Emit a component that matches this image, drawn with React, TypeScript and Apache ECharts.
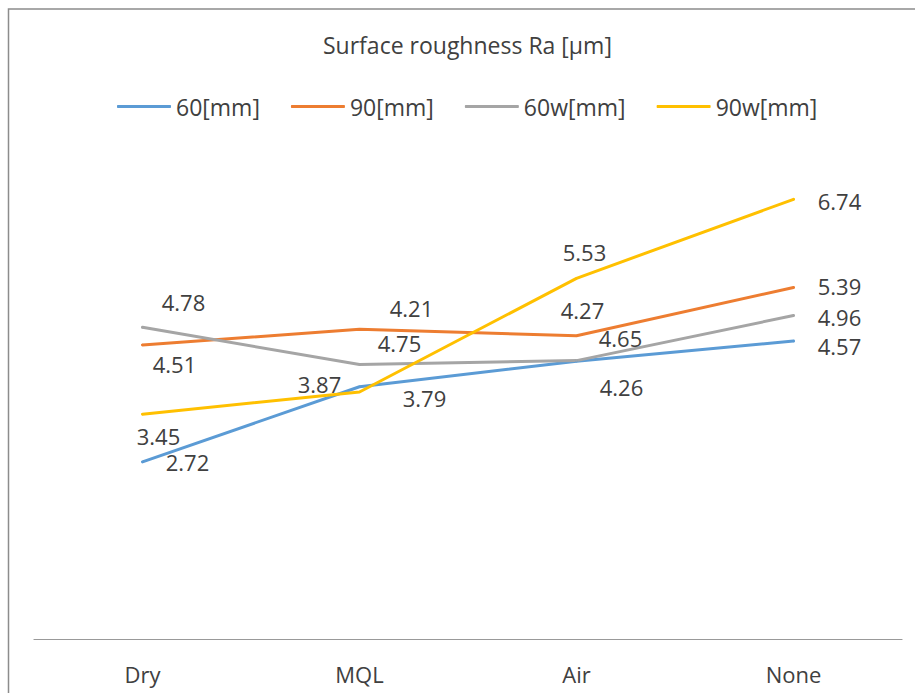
import React, { useEffect, useRef } from "react";
import * as echarts from "echarts";

const categories = ["Dry", "MQL", "Air", "None"];
const seriesNames = ["60[mm]", "90[mm]", "60w[mm]", "90w[mm]"];
const values60 = [2.72, 3.87, 4.26, 4.57];
const values90 = [4.51, 4.75, 4.65, 5.39];
const values60w = [4.78, 4.21, 4.27, 4.96];
const values90w = [3.45, 3.79, 5.53, 6.74];
const colors = ["#5B9BD5", "#ED7D31", "#A5A5A5", "#FFC000"];

// label offsets (layout only), [dx, dy] from the point
const labelOffsets: number[][][] = [
  [[45, 0], [-40, -3], [45, 26], [46, 5]],
  [[32, 19], [40, 14], [44, 2], [46, -1]],
  [[41, -25], [52, -57], [6, -51], [46, 1]],
  [[16, 22], [65, 6], [8, -26], [46, 2]],
];

const FONT = "'Open Sans', sans-serif";
const TEXT = "#404040";

export default function App() {
  const ref = useRef<HTMLDivElement>(null);
  useEffect(() => {
    if (!ref.current) return;
    const chart = echarts.init(ref.current, undefined, { renderer: "svg" });
    const all = [values60, values90, values60w, values90w];
    chart.setOption({
      animation: false,
      backgroundColor: "#ffffff",
      title: {
        text: "Surface roughness Ra [µm]",
        left: 323,
        top: 33,
        padding: 0,
        textStyle: { fontFamily: FONT, fontSize: 23, fontWeight: "normal", color: TEXT },
      },
      legend: {
        left: 112,
        top: 90,
        itemWidth: 54,
        itemHeight: 3,
        itemGap: 31,
        icon: "roundRect",
        textStyle: { fontFamily: FONT, fontSize: 23, color: TEXT },
        data: seriesNames.map((n, i) => ({ name: n, itemStyle: { color: colors[i] } })),
      },
      graphic: [
        {
          type: "rect",
          shape: { x: 8.5, y: 9, width: 1000, height: 1000 },
          style: { fill: "none", stroke: "#8c8c8c", lineWidth: 1.5 },
          silent: true,
        },
      ],
      grid: { left: 34, right: 13, top: 117, bottom: 53.5 },
      xAxis: {
        type: "category",
        data: categories,
        boundaryGap: true,
        axisLine: { lineStyle: { color: "#999999", width: 1.2 } },
        axisTick: { show: false },
        axisLabel: { fontFamily: FONT, fontSize: 22, color: TEXT, margin: 23 },
      },
      yAxis: {
        type: "value",
        min: 0,
        max: 8,
        interval: 1,
        show: false,
        splitLine: { show: false },
      },
      series: all.map((vals, si) => ({
        name: seriesNames[si],
        type: "line",
        symbol: "circle",
        symbolSize: 2,
        color: colors[si],
        itemStyle: { color: colors[si] },
        lineStyle: { color: colors[si], width: 3, cap: "round", join: "round" },
        data: vals.map((v, i) => ({
          value: v,
          label: {
            show: true,
            position: "inside",
            offset: labelOffsets[si][i],
            formatter: (p: any) => Number(p.value).toFixed(2),
            fontFamily: FONT,
            fontSize: 22,
            lineHeight: 22,
            color: TEXT,
          },
        })),
      })),
    });
    return () => chart.dispose();
  }, []);
  return (
    <div
      ref={ref}
      style={{ position: "absolute", left: 0, top: 0, width: 915, height: 693 }}
    />
  );
}
